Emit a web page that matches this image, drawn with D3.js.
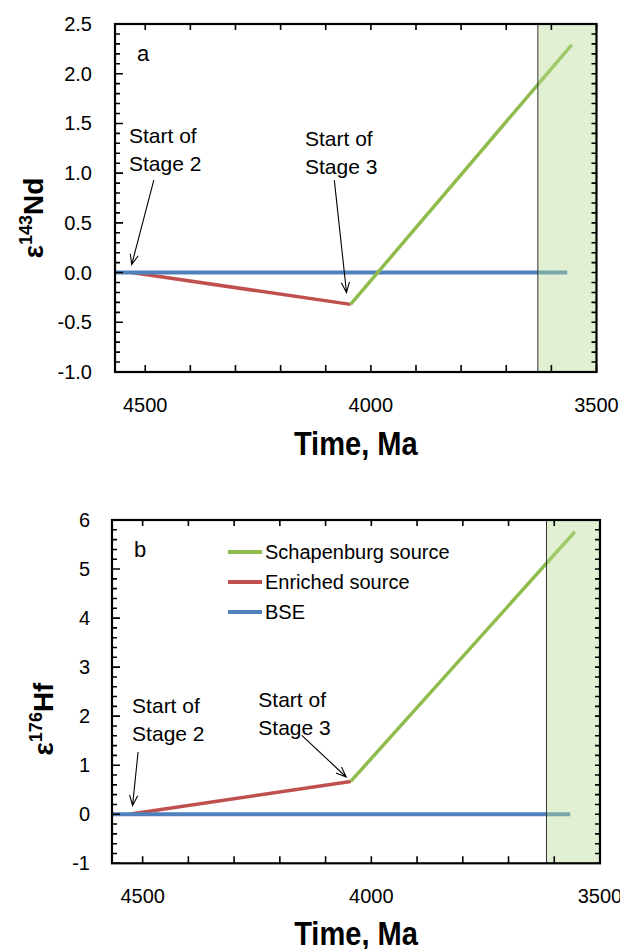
<!DOCTYPE html>
<html>
<head>
<meta charset="utf-8">
<script src="https://cdn.jsdelivr.net/npm/d3@7"></script>
<style>
  body { margin: 0; background: #fff; }
  svg text { font-family: "Liberation Sans", Arial, sans-serif; fill: #000; }
</style>
</head>
<body>
<div id="chart"></div>
<script>
// ---- data ----
const timeDomain = [4567, 3500];
const timeTicks = [4500, 4400, 4300, 4200, 4100, 4000, 3900, 3800, 3700, 3600, 3500];
const timeLabels = [4500, 4000, 3500];

const bseTime = [4567, 3565];
const bseValues = [0, 0];

const enrichedTime = [4530, 4045];
const enrichedNd = [0, -0.32];
const enrichedHf = [0, 0.67];

const schapTime = [4045, 3555];
const schapNd = [-0.32, 2.29];
const schapHf = [0.67, 5.76];

const shadeStart = [3630, 3617]; // panel a, panel b

const legendNames = ["Schapenburg source", "Enriched source", "BSE"];
const colors = { schap: "#8fbc4c", enriched: "#c0504d", bse: "#4f81bd" };

// annotation anchors in data units: [time, value]
const stage2TextNd = [4536, 1.30], stage2ArrowNd = [[4481, 0.93], [4530, 0.08]];
const stage3TextNd = [4146, 1.27], stage3ArrowNd = [[4081, 0.93], [4054, -0.20]];
const stage2TextHf = [4523, 2.06], stage2ArrowHf = [[4510, 1.27], [4522, 0.18]];
const stage3TextHf = [4247, 2.19], stage3ArrowHf = [[4152, 1.61], [4055, 0.76]];

const svg = d3.select("#chart").append("svg")
    .attr("width", 620)
    .attr("height", 949);

function makePanel(opt) {
    const w = opt.w, h = opt.h;
    const x = d3.scaleLinear().domain(timeDomain).range([opt.left, opt.left + w]);
    const y = d3.scaleLinear().domain(opt.yDomain).range([opt.top + h, opt.top]);
    const L = opt.left, T = opt.top, R = opt.left + w, B = opt.top + h;

    const line = d3.line().x(d => x(d[0])).y(d => y(d[1]));

    // series
    svg.append("path")
        .attr("d", line(d3.zip(opt.enT, opt.enV)))
        .attr("fill", "none").attr("stroke", colors.enriched).attr("stroke-width", 3.5);
    svg.append("path")
        .attr("d", line(d3.zip(bseTime, bseValues)))
        .attr("fill", "none").attr("stroke", colors.bse).attr("stroke-width", 4);
    svg.append("path")
        .attr("d", line(d3.zip(opt.scT, opt.scV)))
        .attr("fill", "none").attr("stroke", colors.schap).attr("stroke-width", 3.5);

    // shaded window, drawn over the lines
    svg.append("rect")
        .attr("x", x(opt.shade)).attr("y", T)
        .attr("width", R - x(opt.shade)).attr("height", h)
        .attr("fill", "#b8dc94").attr("fill-opacity", 0.42);
    svg.append("path")
        .attr("d", `M${x(opt.shade)},${T}V${B}`)
        .attr("fill", "none").attr("stroke", "#333").attr("stroke-width", 1);

    // ticks, all pointing inward
    const yMinor = d3.range(opt.yDomain[0], opt.yDomain[1] + 1e-9, opt.minorStep);
    let td = "";
    yMinor.forEach(v => { td += `M${L},${y(v)}h5M${R},${y(v)}h-5`; });
    opt.yMajor.forEach(v => { td += `M${L},${y(v)}h8`; });
    timeTicks.forEach(t => { td += `M${x(t)},${B}v-7M${x(t)},${T}v6`; });
    svg.append("path")
        .attr("d", td)
        .attr("fill", "none").attr("stroke", "#000").attr("stroke-width", 1.6);

    // frame
    svg.append("rect")
        .attr("x", L).attr("y", T).attr("width", w).attr("height", h)
        .attr("fill", "none").attr("stroke", "#000").attr("stroke-width", 2.2);

    // tick labels
    svg.selectAll(null).data(opt.yMajor).join("text")
        .attr("x", L - opt.yPad).attr("y", d => y(d) + 7)
        .attr("text-anchor", "end").attr("font-size", 20)
        .text(opt.yFmt);
    svg.selectAll(null).data(timeLabels).join("text")
        .attr("x", d => x(d)).attr("y", B + 39.5)
        .attr("text-anchor", "middle").attr("font-size", 20)
        .text(d => d);

    // panel letter
    svg.append("text")
        .attr("x", L + 22).attr("y", T + opt.letterY)
        .attr("font-size", 22)
        .text(opt.letter);

    // annotations
    const ann = [
        { t: opt.s2Text, a: opt.s2Arrow, n: "2" },
        { t: opt.s3Text, a: opt.s3Arrow, n: "3" }
    ];
    ann.forEach(d => {
        const tx = svg.append("text")
            .attr("x", x(d.t[0])).attr("y", y(d.t[1]))
            .attr("font-size", 21);
        tx.append("tspan").text("Start of");
        tx.append("tspan").attr("x", x(d.t[0])).attr("dy", 28).text("Stage " + d.n);

        const x1 = x(d.a[0][0]), y1 = y(d.a[0][1]), x2 = x(d.a[1][0]), y2 = y(d.a[1][1]);
        const ang = Math.atan2(y2 - y1, x2 - x1), hl = 11, spread = 0.38;
        const p1 = [x2 - hl * Math.cos(ang - spread), y2 - hl * Math.sin(ang - spread)];
        const p2 = [x2 - hl * Math.cos(ang + spread), y2 - hl * Math.sin(ang + spread)];
        svg.append("path")
            .attr("d", `M${x1},${y1}L${x2},${y2}M${p1[0]},${p1[1]}L${x2},${y2}L${p2[0]},${p2[1]}`)
            .attr("fill", "none").attr("stroke", "#000").attr("stroke-width", 1.1);
    });

    // legend
    if (opt.legend) {
        const lc = [colors.schap, colors.enriched, colors.bse];
        legendNames.forEach((name, i) => {
            svg.append("path")
                .attr("d", `M${L + 116},${T + 32 + i * 30}h34`)
                .attr("stroke", lc[i]).attr("stroke-width", 4);
            svg.append("text")
                .attr("x", L + 153).attr("y", T + 39 + i * 30)
                .attr("font-size", 20)
                .text(name);
        });
    }

    // x axis title
    svg.append("text")
        .attr("transform", `translate(${L + w / 2},${B + opt.xTitleDy}) scale(0.88,1)`)
        .attr("text-anchor", "middle")
        .attr("font-size", 33).attr("font-weight", "bold")
        .text("Time, Ma");

    // y axis title
    const yt = svg.append("text")
        .attr("transform", `translate(${opt.yTitleX},${opt.yTitleY}) rotate(-90)`)
        .attr("text-anchor", "middle")
        .attr("font-size", 28).attr("font-weight", "bold");
    yt.append("tspan").text("\u03b5");
    yt.append("tspan").attr("font-size", 18).attr("dy", -11).text(opt.iso);
    yt.append("tspan").attr("dy", 11).text(opt.elem);
}

makePanel({
    left: 115, top: 24, w: 481.5, h: 348,
    yDomain: [-1, 2.5], yMajor: d3.range(-1, 2.51, 0.5), minorStep: 0.1,
    yFmt: d => d.toFixed(1), yPad: 23,
    enT: enrichedTime, enV: enrichedNd, scT: schapTime, scV: schapNd,
    shade: shadeStart[0], letter: "a", letterY: 37,
    s2Text: stage2TextNd, s2Arrow: stage2ArrowNd,
    s3Text: stage3TextNd, s3Arrow: stage3ArrowNd,
    legend: false, xTitleDy: 83, yTitleX: 43, yTitleY: 218,
    iso: "143", elem: "Nd"
});

makePanel({
    left: 112, top: 520, w: 488, h: 343.3,
    yDomain: [-1, 6], yMajor: d3.range(-1, 6.01, 1), minorStep: 0.2,
    yFmt: d => String(d), yPad: 22,
    enT: enrichedTime, enV: enrichedHf, scT: schapTime, scV: schapHf,
    shade: shadeStart[1], letter: "b", letterY: 37,
    s2Text: stage2TextHf, s2Arrow: stage2ArrowHf,
    s3Text: stage3TextHf, s3Arrow: stage3ArrowHf,
    legend: true, xTitleDy: 82, yTitleX: 53, yTitleY: 719,
    iso: "176", elem: "Hf"
});
</script>
</body>
</html>
